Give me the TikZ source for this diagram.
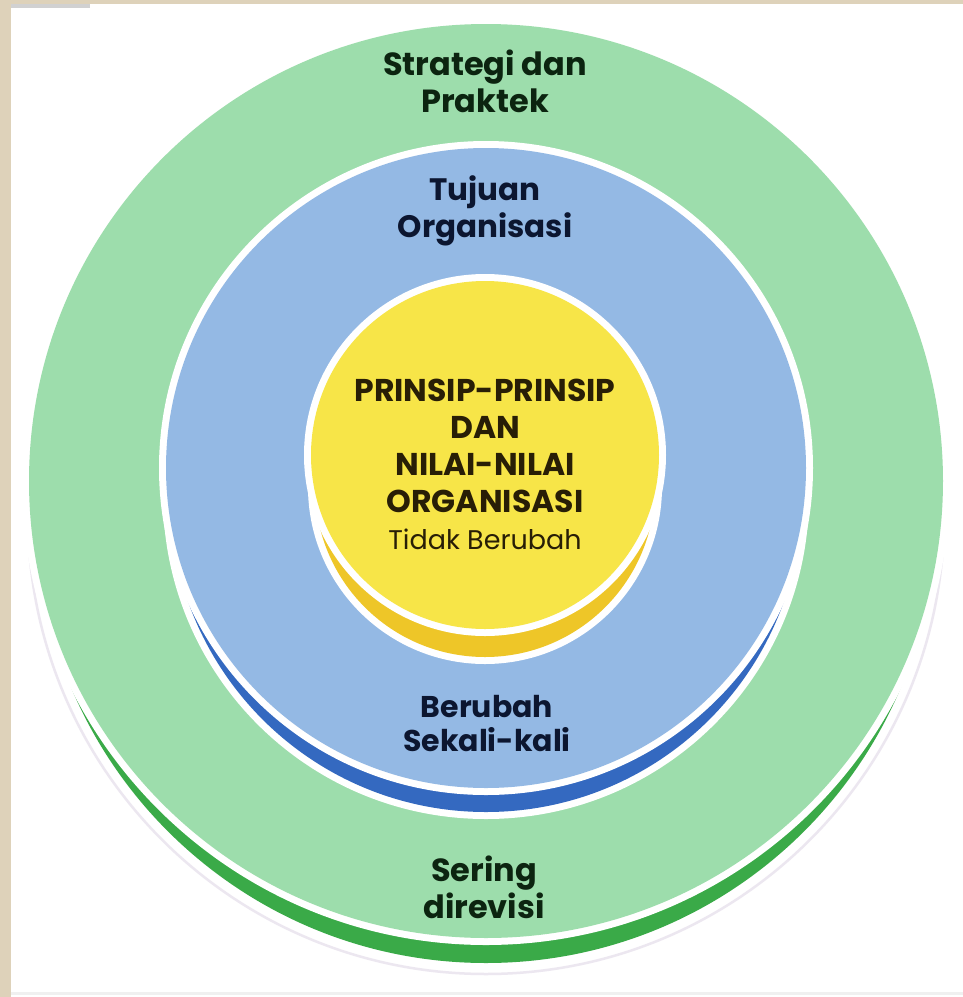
\documentclass[tikz,border=0pt]{standalone}
\usepackage{fontspec}
\setmainfont{Poppins}
\definecolor{greenL}{RGB}{157,221,172}
\definecolor{greenD}{RGB}{58,170,72}
\definecolor{blueL}{RGB}{148,185,228}
\definecolor{blueD}{RGB}{52,105,192}
\definecolor{yelL}{RGB}{247,229,72}
\definecolor{yelD}{RGB}{238,198,40}
\definecolor{beige}{RGB}{222,210,186}
\definecolor{shade}{RGB}{236,231,240}
\definecolor{txtG}{RGB}{12,36,16}
\definecolor{txtB}{RGB}{12,22,48}
\definecolor{txtY}{RGB}{40,30,6}
\tikzset{
  disc/.style={circle, inner sep=0pt, draw=none},
  lbl/.style={inner sep=0pt, align=center, font=\bfseries\fontsize{32}{37}\selectfont},
}
\begin{document}
\begin{tikzpicture}[x=1pt,y=-1pt]
\useasboundingbox (0,0) rectangle (963,997);
\fill[white] (0,0) rectangle (963,997);
% scanned page edges
\fill[beige] (0,0) rectangle (11,997);
\fill[beige] (0,0) rectangle (963,4);
\fill[black!18] (11,4) rectangle (90,8);
\fill[black!6] (11,992) rectangle (963,995);
% outer green disc
\node[disc, draw=shade, line width=2.5pt, minimum size=916pt] (gshadow) at (486,516) {};
\node[disc, fill=white, minimum size=912pt] (ghalo2) at (486,513) {};
\node[disc, fill=greenD, minimum size=900pt] (gbase) at (486,513) {};
\node[disc, fill=white, minimum size=928pt] (ghalo) at (486,481) {};
\node[disc, fill=greenL, minimum size=914pt] (green) at (486,481) {};
% blue disc
\node[disc, fill=white, minimum size=646pt] (bhalo2) at (486,496) {};
\node[disc, fill=blueD, minimum size=632pt] (bbase) at (486,496) {};
\node[disc, fill=white, minimum size=654pt] (bhalo) at (486,468) {};
\node[disc, fill=blueL, minimum size=640pt] (blue) at (486,468) {};
% yellow disc
\node[disc, fill=white, minimum size=354pt] (yhalo2) at (485,487) {};
\node[disc, fill=yelD, minimum size=340pt] (ybase) at (485,487) {};
\node[disc, fill=white, minimum size=362pt] (yhalo) at (485,455) {};
\node[disc, fill=yelL, minimum size=348pt] (yellow) at (485,455) {};
% labels
\node[lbl, text=txtG] (strat) at (485,81) {Strategi dan\\Praktek};
\node[lbl, text=txtB, font=\bfseries\fontsize{31}{37}\selectfont] (tujuan) at (485,211) {Tujuan\\Organisasi};
\node[lbl, text=txtY, font=\bfseries\fontsize{31.5}{37}\selectfont] (prinsip) at (485,464)
  {PRINSIP-PRINSIP\\DAN\\NILAI-NILAI\\ORGANISASI\\{\mdseries\fontsize{27}{37}\selectfont Tidak Berubah}};
\node[lbl, text=txtB, font=\bfseries\fontsize{30}{34}\selectfont] (berubah) at (487,724) {Berubah\\Sekali-kali};
\node[lbl, text=txtG] (sering) at (484,887) {Sering\\direvisi};
\end{tikzpicture}
\end{document}
